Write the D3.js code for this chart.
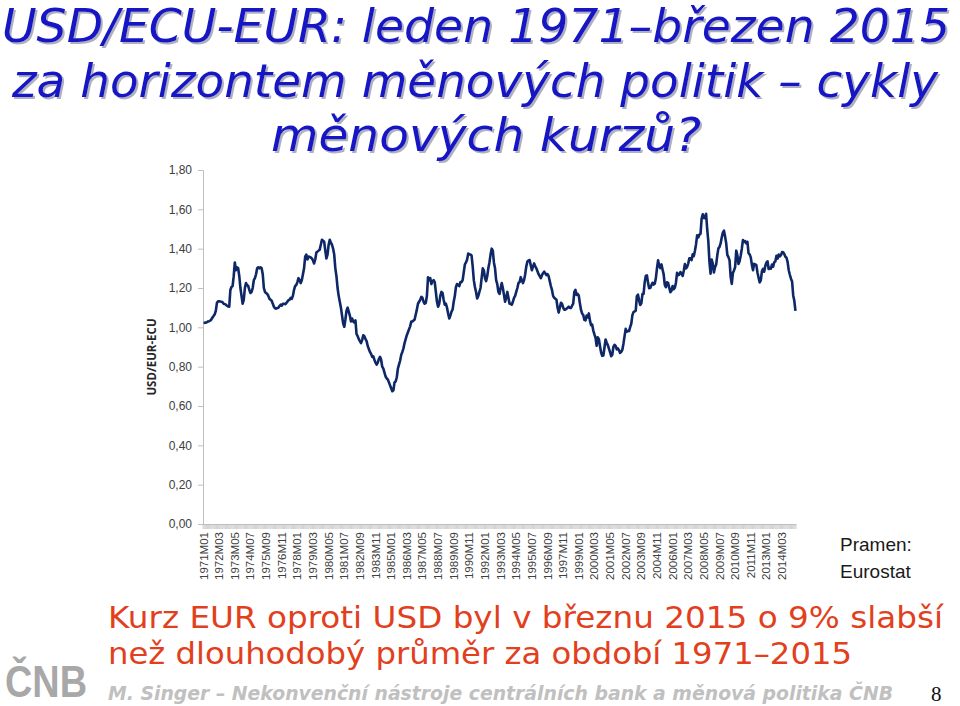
<!DOCTYPE html>
<html><head><meta charset="utf-8">
<script src="https://cdn.jsdelivr.net/npm/d3@7/dist/d3.min.js"></script>
<style>body{margin:0;background:#fff;}svg{display:block;}</style>
</head><body>
<svg id="c" width="960" height="706"></svg>
<script>
// ---- data ----
const startYear = 1971;
const yTicks = [0, 0.2, 0.4, 0.6, 0.8, 1.0, 1.2, 1.4, 1.6, 1.8];
const labelEvery = 14; // months between category labels
const titleLines = ["USD/ECU-EUR: leden 1971\u2013b\u0159ezen 2015",
                    "za horizontem m\u011bnov\u00fdch politik \u2013 cykly",
                    "m\u011bnov\u00fdch kurz\u016f?"];
const noteLines = ["Kurz EUR oproti USD byl v b\u0159eznu 2015 o 9% slab\u0161\u00ed",
                   "ne\u017e dlouhodob\u00fd pr\u016fm\u011br za obdob\u00ed 1971\u20132015"];
const sourceLines = ["Pramen:", "Eurostat"];
const yTitle = "USD/EUR-ECU";
const footer = "M. Singer \u2013 Nekonven\u010dn\u00ed n\u00e1stroje centr\u00e1ln\u00edch bank a m\u011bnov\u00e1 politika \u010cNB";
const pageNo = "8";
const usdEur = [
// 1971
1.022,1.023,1.024,1.026,1.030,1.031,1.035,1.040,1.050,1.058,1.066,1.085,
// 1972
1.125,1.132,1.133,1.131,1.130,1.128,1.120,1.118,1.115,1.110,1.106,1.105,
// 1973
1.19,1.205,1.21,1.26,1.33,1.29,1.305,1.30,1.26,1.20,1.16,1.12,
// 1974
1.14,1.20,1.225,1.215,1.21,1.19,1.175,1.18,1.20,1.24,1.25,1.27,
// 1975
1.30,1.305,1.30,1.305,1.30,1.27,1.20,1.18,1.175,1.17,1.16,1.145,
// 1976
1.14,1.135,1.12,1.105,1.097,1.095,1.098,1.10,1.108,1.115,1.11,1.12,
// 1977
1.12,1.118,1.122,1.13,1.138,1.14,1.15,1.145,1.16,1.19,1.21,1.215,
// 1978
1.23,1.25,1.24,1.225,1.24,1.27,1.30,1.36,1.37,1.345,1.36,1.358,
// 1979
1.355,1.35,1.34,1.325,1.345,1.38,1.385,1.39,1.395,1.42,1.445,1.44,
// 1980
1.435,1.39,1.35,1.37,1.42,1.445,1.43,1.42,1.40,1.37,1.30,1.26,
// 1981
1.20,1.16,1.13,1.10,1.06,1.02,1.003,1.04,1.085,1.10,1.08,1.06,
// 1982
1.03,1.045,1.03,1.025,1.035,0.965,0.955,0.94,0.93,0.92,0.935,0.96,
// 1983
0.955,0.94,0.93,0.905,0.89,0.875,0.865,0.85,0.852,0.835,0.82,0.81,
// 1984
0.82,0.84,0.85,0.835,0.80,0.79,0.77,0.75,0.74,0.735,0.72,0.705,
// 1985
0.69,0.675,0.68,0.72,0.725,0.745,0.79,0.81,0.83,0.86,0.875,0.893,
// 1986
0.92,0.94,0.96,0.975,0.99,1.005,1.03,1.03,1.035,1.04,1.065,1.09,
// 1987
1.12,1.13,1.14,1.155,1.15,1.13,1.12,1.125,1.16,1.255,1.24,1.25,
// 1988
1.22,1.235,1.24,1.23,1.18,1.13,1.105,1.12,1.16,1.18,1.175,1.14,
// 1989
1.115,1.12,1.10,1.07,1.045,1.06,1.08,1.09,1.13,1.16,1.205,1.22,
// 1990
1.215,1.21,1.23,1.23,1.24,1.28,1.32,1.33,1.345,1.375,1.37,1.37,
// 1991
1.365,1.31,1.24,1.205,1.18,1.147,1.16,1.18,1.20,1.25,1.30,1.29,
// 1992
1.25,1.235,1.26,1.30,1.33,1.37,1.40,1.39,1.33,1.30,1.24,1.22,
// 1993
1.18,1.17,1.20,1.225,1.20,1.165,1.13,1.15,1.18,1.15,1.12,1.12,
// 1994
1.115,1.13,1.15,1.16,1.18,1.20,1.225,1.23,1.255,1.24,1.225,1.24,
// 1995
1.27,1.31,1.335,1.34,1.342,1.315,1.29,1.31,1.325,1.31,1.30,1.285,
// 1996
1.27,1.26,1.25,1.265,1.275,1.283,1.275,1.265,1.27,1.26,1.235,1.21,
// 1997
1.19,1.16,1.15,1.145,1.14,1.10,1.075,1.10,1.125,1.12,1.10,1.09,
// 1998
1.09,1.095,1.10,1.105,1.10,1.098,1.11,1.12,1.18,1.19,1.165,1.17,
// 1999
1.1608,1.1208,1.0883,1.0704,1.0628,1.0378,1.0353,1.0604,1.0501,1.0706,1.0338,1.0110,
// 2000
1.0137,0.9834,0.9643,0.9470,0.9060,0.9492,0.9397,0.9041,0.8721,0.8552,0.8564,0.8973,
// 2001
0.9383,0.9217,0.9095,0.8920,0.8742,0.8532,0.8607,0.9005,0.9111,0.9059,0.8883,0.8924,
// 2002
0.8833,0.8700,0.8758,0.8858,0.9170,0.9554,0.9922,0.9778,0.9808,0.9811,1.0014,1.0183,
// 2003
1.0622,1.0773,1.0807,1.0848,1.1582,1.1663,1.1372,1.1139,1.1222,1.1692,1.1702,1.2286,
// 2004
1.2613,1.2646,1.2262,1.1985,1.2007,1.2138,1.2266,1.2176,1.2218,1.2490,1.2991,1.3408,
// 2005
1.3119,1.3014,1.3201,1.2938,1.2694,1.2165,1.2037,1.2292,1.2256,1.2015,1.1786,1.1856,
// 2006
1.2103,1.1938,1.2020,1.2271,1.2770,1.2650,1.2684,1.2811,1.2727,1.2611,1.2881,1.3213,
// 2007
1.2999,1.3074,1.3242,1.3516,1.3511,1.3419,1.3716,1.3622,1.3896,1.4227,1.4684,1.4570,
// 2008
1.4718,1.4748,1.5527,1.5751,1.5557,1.5553,1.5770,1.4975,1.4370,1.3322,1.2732,1.3449,
// 2009
1.3239,1.2785,1.3050,1.3190,1.3650,1.4016,1.4088,1.4268,1.4562,1.4816,1.4914,1.4614,
// 2010
1.4272,1.3686,1.3569,1.3406,1.2565,1.2209,1.2770,1.2894,1.3067,1.3898,1.3661,1.3220,
// 2011
1.3360,1.3649,1.3999,1.4442,1.4349,1.4388,1.4264,1.4343,1.3770,1.3706,1.3556,1.3179,
// 2012
1.2905,1.3224,1.3201,1.3162,1.2789,1.2526,1.2288,1.2400,1.2856,1.2974,1.2828,1.3119,
// 2013
1.3288,1.3359,1.2964,1.3026,1.2982,1.3189,1.3080,1.3310,1.3348,1.3635,1.3493,1.3704,
// 2014
1.3610,1.3659,1.3823,1.3813,1.3732,1.3592,1.3539,1.3316,1.2901,1.2673,1.2472,1.2331,
// 2015
1.1621,1.1350,1.0838
];
const months = usdEur.map((v, i) => {
  const y = startYear + Math.floor(i / 12), m = i % 12 + 1;
  return y + "M" + (m < 10 ? "0" + m : m);
});

// ---- drawing ----
const svg = d3.select("#c");
const defs = svg.append("defs");
const f = defs.append("filter").attr("id", "sh").attr("x", "-5%").attr("y", "-20%")
  .attr("width", "110%").attr("height", "150%");
f.append("feDropShadow").attr("dx", 2).attr("dy", 2).attr("stdDeviation", 0.6)
  .attr("flood-color", "#7a7a96").attr("flood-opacity", 0.6);

const x = d3.scaleBand().domain(months).range([203, 796]);
const y = d3.scaleLinear().domain([0, 1.8]).range([524, 170]);
const cx = d => x(d) + x.bandwidth() / 2;

// title
const title = svg.append("g").attr("font-family", "DejaVu Sans, Verdana, sans-serif")
  .attr("font-style", "italic").attr("font-size", 46).attr("filter", "url(#sh)");
const tpos = [{x: 2, y: 42, w: 948}, {x: 12, y: 97, w: 926}, {x: 271, y: 151, w: 430}];
titleLines.forEach((t, i) => {
  title.append("text").attr("x", tpos[i].x).attr("y", tpos[i].y)
    .attr("textLength", tpos[i].w).attr("lengthAdjust", "spacingAndGlyphs")
    .attr("fill", "#1212c4").text(t);
});

// y axis
const yAxis = svg.append("g").attr("transform", "translate(203,0)")
  .call(d3.axisLeft(y).tickValues(yTicks).tickSize(5).tickPadding(6)
    .tickFormat(d => d3.format(".2f")(d).replace(".", ",")));
yAxis.select(".domain").attr("stroke", "#bfbfbf");
yAxis.selectAll(".tick line").attr("stroke", "#bfbfbf");
yAxis.selectAll(".tick text").attr("fill", "#404040")
  .attr("font-family", "Liberation Sans, Arial, sans-serif").attr("font-size", 12);

svg.append("text").attr("transform", "translate(156,357) rotate(-90)")
  .attr("text-anchor", "middle").attr("font-family", "Open Sans, Liberation Sans, sans-serif")
  .attr("font-weight", "bold").attr("font-size", 11.5).attr("fill", "#262626").text(yTitle);

// x axis
const xAxis = svg.append("g").attr("transform", "translate(0,524)")
  .call(d3.axisBottom(x).tickValues(months.filter((d, i) => i % labelEvery === 0))
    .tickSize(0).tickPadding(0));
xAxis.select(".domain").attr("stroke", "#bfbfbf");
xAxis.selectAll(".tick text")
  .attr("transform", "rotate(-90)").attr("text-anchor", "end")
  .attr("x", -8).attr("y", 0).attr("dy", "0.35em")
  .attr("fill", "#404040").attr("font-family", "Liberation Sans, Arial, sans-serif")
  .attr("font-size", 11.5);
svg.append("g").selectAll("line").data(months).join("line")
  .attr("x1", d => x(d)).attr("x2", d => x(d))
  .attr("y1", 524).attr("y2", 529)
  .attr("stroke", "#bfbfbf").attr("stroke-width", 0.7);
svg.append("line").attr("x1", 796).attr("x2", 796).attr("y1", 524).attr("y2", 529)
  .attr("stroke", "#bfbfbf").attr("stroke-width", 0.7);

// line
svg.append("path").datum(usdEur)
  .attr("fill", "none").attr("stroke", "#0e2766").attr("stroke-width", 2.6)
  .attr("stroke-linejoin", "round")
  .attr("d", d3.line().x((d, i) => cx(months[i])).y(d => y(d)));

// source
svg.append("g").selectAll("text").data(sourceLines).join("text")
  .attr("x", 840).attr("y", (d, i) => 551 + i * 27)
  .attr("font-family", "Liberation Sans, Arial, sans-serif").attr("font-size", 19)
  .attr("fill", "#1a1a1a").text(d => d);

// red note
const npos = [{x: 108, y: 628, w: 835}, {x: 108, y: 664, w: 744}];
svg.append("g").selectAll("text").data(noteLines).join("text")
  .attr("x", (d, i) => npos[i].x).attr("y", (d, i) => npos[i].y)
  .attr("textLength", (d, i) => npos[i].w).attr("lengthAdjust", "spacingAndGlyphs")
  .attr("font-family", "DejaVu Sans, Verdana, sans-serif").attr("font-size", 30)
  .attr("fill", "#e2401c").text(d => d);

// footer
svg.append("text").attr("x", 108).attr("y", 700)
  .attr("textLength", 785).attr("lengthAdjust", "spacingAndGlyphs")
  .attr("font-family", "DejaVu Sans, Verdana, sans-serif").attr("font-size", 19)
  .attr("font-style", "italic").attr("font-weight", "bold")
  .attr("fill", "#c0c0c0").text(footer);
svg.append("text").attr("x", 931).attr("y", 701)
  .attr("font-family", "Liberation Serif, Times New Roman, serif").attr("font-size", 21)
  .attr("fill", "#111").text(pageNo);

// logo
svg.append("text").attr("x", 5).attr("y", 697)
  .attr("textLength", 82).attr("lengthAdjust", "spacingAndGlyphs")
  .attr("font-family", "Liberation Sans Narrow, Liberation Sans, sans-serif")
  .attr("font-size", 44).attr("font-weight", "bold").attr("fill", "#a8a8a8").text("\u010cNB");
</script>
</body></html>
